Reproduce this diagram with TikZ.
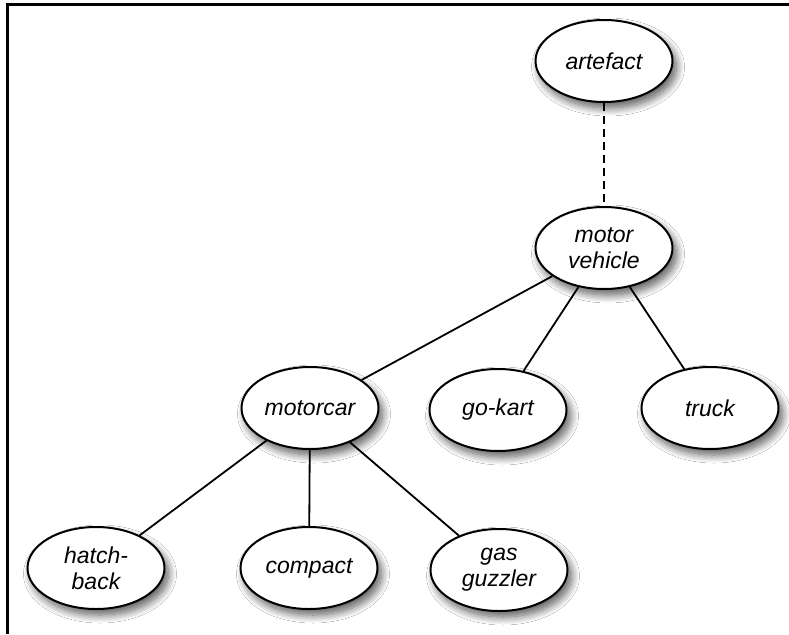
\documentclass[tikz,border=0pt]{standalone}
\usepackage{fontspec}
\setmainfont{Liberation Sans}
\usetikzlibrary{shapes.geometric,shadows.blur}
\tikzset{
  concept/.style={ellipse, draw=black, line width=2pt, fill=white,
    minimum width=137pt, minimum height=82pt, inner sep=0pt, align=center,
    font=\fontsize{23}{26}\selectfont\itshape,
    blur shadow={shadow xshift=4pt, shadow yshift=-6pt, shadow blur radius=8pt, shadow blur steps=12, shadow opacity=65}},
  link/.style={line width=1.8pt, draw=black},
  dashlink/.style={line width=2pt, draw=black, dash pattern=on 8pt off 5pt}
}
\begin{document}
\begin{tikzpicture}[x=1pt,y=-1pt]
\useasboundingbox (0,0) rectangle (789,634);
\fill[white] (0,0) rectangle (789,634);
\draw[line width=3pt] (7,634) -- (7,5) -- (789,5);
\node[concept] (artefact) at (604,61) {artefact};
\node[concept] (mv) at (604,248) {motor\\vehicle};
\node[concept] (motorcar) at (310,408) {motorcar};
\node[concept] (gokart) at (498,410) {go-kart};
\node[concept] (truck) at (710,408) {truck};
\node[concept] (hatch) at (96,568) {hatch-\\back};
\node[concept] (compact) at (309,568) {compact};
\node[concept] (gas) at (499,570) {gas\\guzzler};
\draw[dashlink] (artefact) -- (mv);
\draw[link] (mv) -- (motorcar);
\draw[link] (mv) -- (gokart);
\draw[link] (mv) -- (truck);
\draw[link] (motorcar) -- (hatch);
\draw[link] (motorcar) -- (compact);
\draw[link] (motorcar) -- (gas);
\end{tikzpicture}
\end{document}
